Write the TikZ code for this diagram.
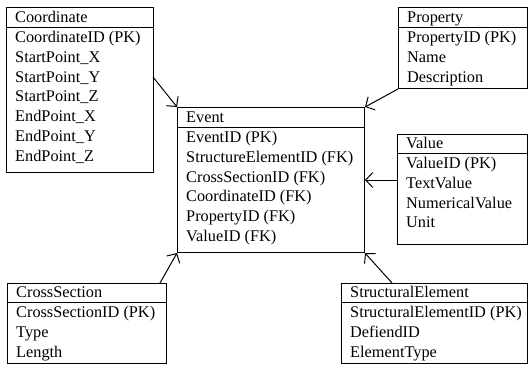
\documentclass[tikz,border=0pt]{standalone}
\usepackage{fontspec}
\setmainfont{Liberation Serif}
\usetikzlibrary{arrows.meta}
\tikzset{
  boxline/.style={line width=1pt},
  txt/.style={anchor=base west, inner sep=0pt, font=\fontsize{16.3}{20}\selectfont},
  rel/.style={line width=1pt, -{Straight Barb[length=7pt,width=15pt,line width=1pt]}},
}
% #1 name, #2 left, #3 top, #4 right, #5 bottom, #6 separator y, #7 title, #8 rows
\newcommand{\erbox}[8]{%
  \node[draw, boxline, inner sep=0pt, anchor=north west,
        minimum width={(#4-#2)*1pt}, minimum height={(#5-#3)*1pt}] (#1) at (#2,#3) {};
  \draw[boxline] (#2,#6) -- (#4,#6);
  \node[txt] (#1-title) at (#2+9,#6-5) {#7};
  \foreach \t [count=\i] in {#8} {
    \node[txt] (#1-row\i) at (#2+9,#6+15.5+19.8*\i-19.8) {\t};
  }
}
\begin{document}
\begin{tikzpicture}[x=1pt,y=-1pt]
\useasboundingbox (0,0) rectangle (530,367);
\erbox{coord}{6}{7}{153}{172}{27}{Coordinate}{CoordinateID (PK),StartPoint\_X,StartPoint\_Y,StartPoint\_Z,EndPoint\_X,EndPoint\_Y,EndPoint\_Z}
\erbox{prop}{398}{7}{527}{88}{27}{Property}{PropertyID (PK),Name,Description}
\erbox{event}{177}{107}{364}{252}{127}{Event}{EventID (PK),StructureElementID (FK),CrossSectionID (FK),CoordinateID (FK),PropertyID (FK),ValueID (FK)}
\erbox{value}{397}{134}{527}{244}{153}{Value}{ValueID (PK),TextValue,NumericalValue,Unit}
\erbox{cross}{7}{283}{166}{363}{302}{CrossSection}{CrossSectionID (PK),Type,Length}
\erbox{struct}{341}{283}{527}{363}{302}{StructuralElement}{StructuralElementID (PK),DefiendID,ElementType}

\coordinate (c1) at (153,77);
\coordinate (c2) at (160,283);
\coordinate (c3) at (392,283);
\draw[rel] (c1) -- (event.north west);
\draw[rel] (prop.south west) -- (event.north east);
\draw[rel] (value.west |- 0,180) -- (event.east |- 0,180);
\draw[rel] (c2) -- (event.south west);
\draw[rel] (c3) -- (event.south east);
\end{tikzpicture}
\end{document}
